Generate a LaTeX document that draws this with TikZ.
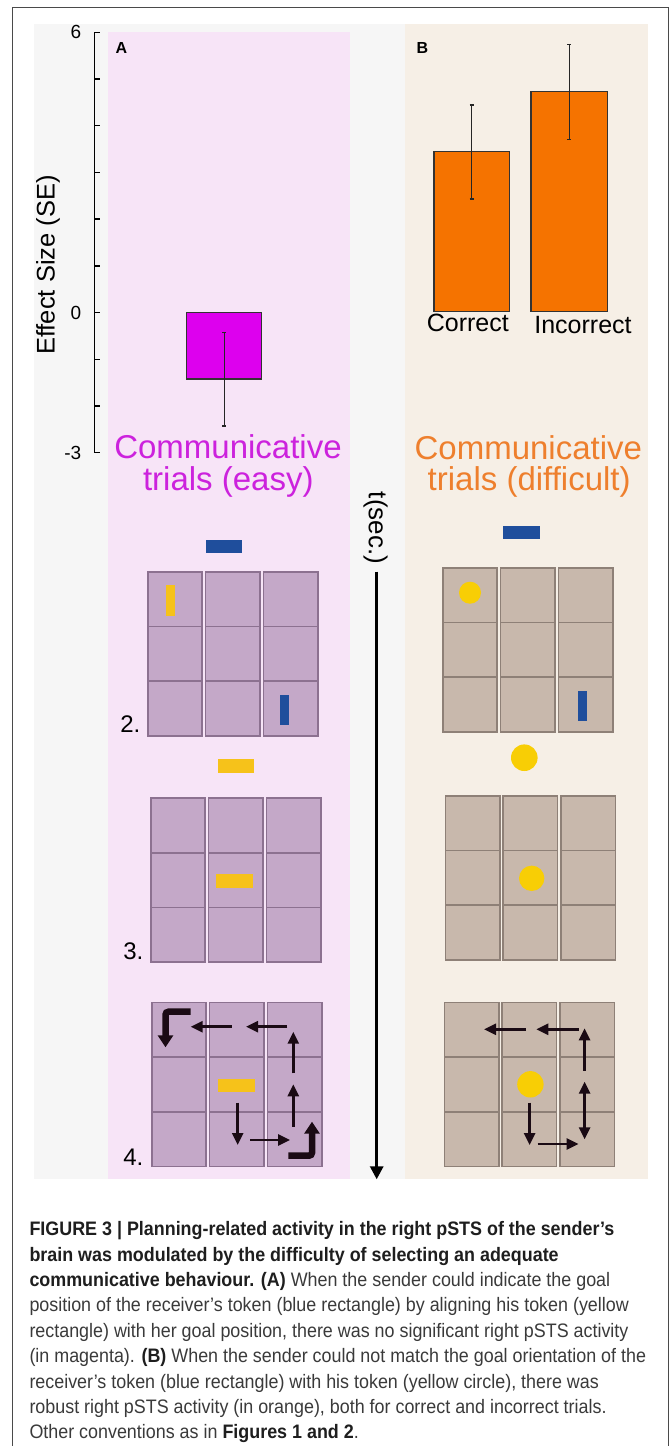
\documentclass[tikz,border=0pt]{standalone}
\usepackage{fontspec}
\setmainfont{Liberation Sans}
\newfontfamily\capfont{Liberation Sans}[FakeStretch=0.918]
\usetikzlibrary{arrows.meta}
\definecolor{framecol}{HTML}{4A4A4A}
\definecolor{graybg}{HTML}{F6F6F6}
\definecolor{pinkbg}{HTML}{F7E4F7}
\definecolor{tanbg}{HTML}{F6EFE6}
\definecolor{cellA}{HTML}{C4A8C8}
\definecolor{cellAline}{HTML}{8C7190}
\definecolor{cellB}{HTML}{C8B8AC}
\definecolor{cellBline}{HTML}{8E8077}
\definecolor{tokblue}{HTML}{1F4E9C}
\definecolor{tokyellow}{HTML}{F6C21A}
\definecolor{tokcircle}{HTML}{F8CE05}
\definecolor{magbar}{HTML}{DD00EE}
\definecolor{magtext}{HTML}{CC22DD}
\definecolor{orbar}{HTML}{F57300}
\definecolor{ortext}{HTML}{EE7F2D}
\definecolor{arrowcol}{HTML}{1A0A14}
\definecolor{capreg}{HTML}{3A3A3A}
\definecolor{capbold}{HTML}{1E1E1E}
\newcommand\tokgrid[4]{%
  \foreach \ci in {0,1,2}{%
    \foreach \cj in {0,1,2}{%
      \draw[draw=#4,fill=#3,line width=1.6pt] ({#1+\ci*57.8},{#2+\cj*54.7}) rectangle ++(54.4,54.7);
    }%
  }%
}
\begin{document}
\begin{tikzpicture}[x=1pt,y=-1pt,
  arr/.style={line width=2.6pt,-{Triangle[length=12pt,width=11pt]},draw=arrowcol},
  dblarr/.style={line width=2.6pt,{Triangle[length=12pt,width=11pt]}-{Triangle[length=12pt,width=11pt]},draw=arrowcol},
  hookarr/.style={line width=6.5pt,-{Triangle[length=12pt,width=15pt]},draw=arrowcol,rounded corners=3pt},
  ebar/.style={line width=1.3pt,draw=black!85},
  barA/.style={fill=magbar,draw=black!80,line width=1.3pt},
  barB/.style={fill=orbar,draw=black!80,line width=1.3pt},
  axis/.style={line width=1.3pt,draw=black},
  ticklab/.style={anchor=east,font=\fontsize{19}{22}\selectfont,inner sep=0pt},
  paneltag/.style={font=\fontsize{16}{18}\selectfont\bfseries,inner sep=0pt},
  titleA/.style={anchor=base,font=\fontsize{33}{38}\selectfont,text=magtext,inner sep=0pt},
  titleB/.style={anchor=base,font=\fontsize{33}{38}\selectfont,text=ortext,inner sep=0pt},
  barlab/.style={anchor=base,font=\fontsize{25}{30}\selectfont,inner sep=0pt},
  steplab/.style={anchor=base east,font=\fontsize{24}{28}\selectfont,inner sep=0pt},
  capline/.style={anchor=base west,inner sep=0pt,font=\capfont\fontsize{19.5}{23}\selectfont,text=capreg},
]
\useasboundingbox (0,0) rectangle (672,1446);
\fill[white] (0,0) rectangle (672,1446);
% frame and backgrounds
\draw[framecol,line width=1.3pt] (12.3,1452) -- (12.3,7.3) -- (668.3,7.3) -- (668.3,1452);
\fill[graybg] (34.3,24) rectangle (647.7,1179.3);
\fill[pinkbg] (108.3,32) rectangle (350,1179.3);
\fill[tanbg] (405,24) rectangle (647.7,1179.3);

% axis
\draw[axis] (99.5,32.3) -- (94.3,32.3) -- (94.3,452.7) -- (99.5,452.7);
\foreach \k in {1,...,8} \draw[axis] (94.3,{32.3+\k*46.71}) -- ++(5.2,0);
\node[ticklab] (t6) at (81.5,32.3) {6};
\node[ticklab] (t0) at (81.5,312.7) {0};
\node[ticklab] (tm3) at (81.5,452.7) {-3};
\node[rotate=90,font=\fontsize{25.5}{30}\selectfont,inner sep=0pt] (ylab) at (48,265) {Effect Size (SE)};

% panel tags
\node[paneltag] (tagA) at (121.5,48) {A};
\node[paneltag] (tagB) at (422.5,47.5) {B};

% bars A
\draw[barA] (186.7,312.7) rectangle (261.7,379);
\draw[ebar] (224.3,332.3) -- (224.3,426);
\draw[ebar] (222.3,332.3) -- (226.3,332.3);
\draw[ebar] (222.3,426) -- (226.3,426);

% bars B
\draw[barB] (434,151.7) rectangle (509.3,311.5);
\draw[barB] (531,91.7) rectangle (607.3,311.5);
\draw[ebar] (471.7,105) -- (471.7,199);
\draw[ebar] (469.7,105) -- (473.7,105);
\draw[ebar] (469.7,199) -- (473.7,199);
\draw[ebar] (569.3,44.3) -- (569.3,139.3);
\draw[ebar] (567.3,44.3) -- (571.3,44.3);
\draw[ebar] (567.3,139.3) -- (571.3,139.3);
\node[barlab] (lcor) at (467.8,331.7) {Correct};
\node[barlab] (linc) at (583,333.3) {Incorrect};

% titles
\node[titleA] (tA1) at (228,458) {Communicative};
\node[titleA] (tA2) at (228.3,490) {trials (easy)};
\node[titleB] (tB1) at (528.3,459) {Communicative};
\node[titleB] (tB2) at (529.2,490) {trials (difficult)};

% timeline
\node[rotate=-90,font=\fontsize{26}{30}\selectfont,inner sep=0pt] (tsec) at (375.5,528) {t(sec.)};
\coordinate (tstart) at (376.7,571.7);
\coordinate (tend) at (376.7,1179.3);
\draw[line width=3pt,-{Triangle[length=13pt,width=13pt]}] (tstart) -- (tend);

% grids A
\tokgrid{147.7}{571.7}{cellA}{cellAline}
\tokgrid{150.7}{798}{cellA}{cellAline}
\tokgrid{151.7}{1002.3}{cellA}{cellAline}
% grids B
\tokgrid{442.7}{567.7}{cellB}{cellBline}
\tokgrid{445.3}{795.7}{cellB}{cellBline}
\tokgrid{444.3}{1002.3}{cellB}{cellBline}

% step labels
\node[steplab] (s2) at (140.5,732.3) {2.};
\node[steplab] (s3) at (143.5,959) {3.};
\node[steplab] (s4) at (143.5,1165) {4.};

% tokens A
\fill[tokblue] (205.7,540) rectangle (241.7,553);
\fill[tokyellow] (166,585) rectangle (175,616);
\fill[tokblue] (280,695) rectangle (289,725);
\fill[tokyellow] (218,759) rectangle (254,773);
\fill[tokyellow] (216,874) rectangle (252.7,888);
\fill[tokyellow] (218.3,1079.3) rectangle (255,1091.7);

% tokens B
\fill[tokblue] (503,525.7) rectangle (540,539.3);
\fill[tokcircle] (470,592.7) circle[radius=11];
\fill[tokblue] (577.7,691) rectangle (587.3,720.7);
\fill[tokcircle] (524.3,757.7) circle[radius=13.3];
\fill[tokcircle] (531.7,878.3) circle[radius=12.7];
\fill[tokcircle] (530.4,1084.3) circle[radius=13.2];

% arrows A4
\draw[hookarr] (190.7,1011.7) -- (165.5,1011.7) -- (165.5,1047.3);
\draw[arr] (231.7,1026.7) -- (190.7,1026.7);
\draw[arr] (287.3,1026.7) -- (246,1026.7);
\draw[arr] (293.3,1073.3) -- (293.3,1031.7);
\draw[arr] (293.3,1126.7) -- (293.3,1084.3);
\draw[arr] (237.7,1102.7) -- (237.7,1145);
\draw[arr] (250,1140) -- (290,1140);
\draw[hookarr] (288.3,1155.7) -- (312,1155.7) -- (312,1121.7);

% arrows B4
\draw[arr] (578.6,1029.3) -- (536.4,1029.3);
\draw[arr] (526,1029.3) -- (484,1029.3);
\draw[arr] (584.6,1070.7) -- (584.6,1028.3);
\draw[dblarr] (584.6,1081.7) -- (584.6,1139.3);
\draw[arr] (529.6,1102.7) -- (529.6,1145);
\draw[arr] (537.5,1144) -- (578.6,1144);

% caption
\node[capline] (c1) at (29.3,1235.7) {\color{capbold}\bfseries FIGURE 3 | Planning-related activity in the right pSTS of the sender’s};
\node[capline] (c2) at (29.3,1261.1) {\color{capbold}\bfseries brain was modulated by the difficulty of selecting an adequate};
\node[capline] (c3) at (29.3,1286.5) {{\color{capbold}\bfseries communicative behaviour. (A)} When the sender could indicate the goal};
\node[capline] (c4) at (29.3,1311.9) {position of the receiver’s token (blue rectangle) by aligning his token (yellow};
\node[capline] (c5) at (29.3,1337.3) {rectangle) with her goal position, there was no significant right pSTS activity};
\node[capline] (c6) at (29.3,1362.7) {(in magenta). {\color{capbold}\bfseries (B)} When the sender could not match the goal orientation of the};
\node[capline] (c7) at (29.3,1388.1) {receiver’s token (blue rectangle) with his token (yellow circle), there was};
\node[capline] (c8) at (29.3,1413.5) {robust right pSTS activity (in orange), both for correct and incorrect trials.};
\node[capline] (c9) at (29.3,1438.9) {Other conventions as in {\color{capbold}\bfseries Figures 1 and 2}.};
\end{tikzpicture}
\end{document}
